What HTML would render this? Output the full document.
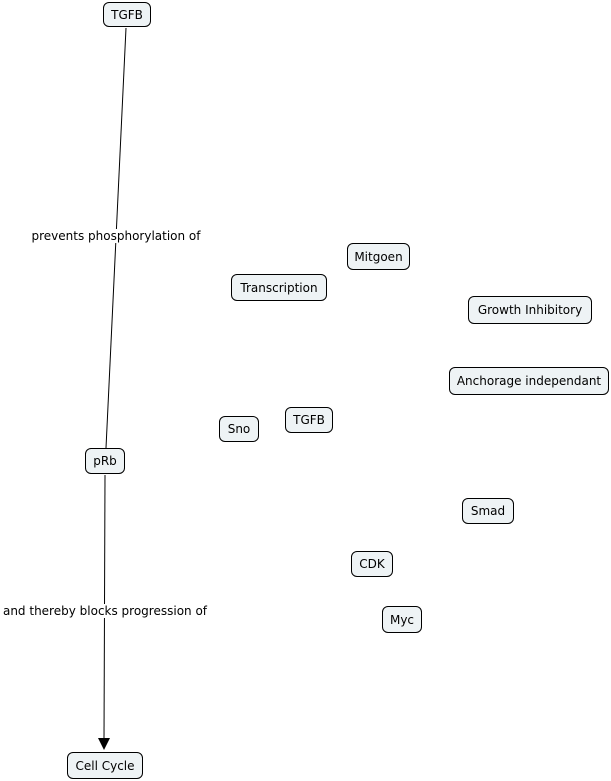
<!DOCTYPE html>
<html><head><style>
body{margin:0;width:611px;height:781px;background:#fff;position:relative;overflow:hidden;font-family:"DejaVu Sans","Liberation Sans",sans-serif;font-size:12px;color:#000}
.n{position:absolute;box-sizing:border-box;border:1px solid #000;border-radius:6px;background:#eef3f5;display:flex;align-items:center;justify-content:center;white-space:nowrap}
.l{position:absolute;background:#fff;white-space:nowrap;transform:translate(-50%,-50%)}
svg{position:absolute;left:0;top:0}
</style></head><body>
<svg width="611" height="781">
<line x1="126" y1="28" x2="106" y2="448" stroke="#000" stroke-width="1"/>
<line x1="105" y1="475" x2="104" y2="740" stroke="#000" stroke-width="1"/>
<polygon points="98,738 110,738 104,750" fill="#000"/>
</svg>
<div class="l" style="left:116px;top:236px">prevents phosphorylation of</div>
<div class="l" style="left:105px;top:611px">and thereby blocks progression of</div>
<div class="n" style="left:103px;top:2px;width:48px;height:25px">TGFB</div>
<div class="n" style="left:347px;top:243px;width:63px;height:27px">Mitgoen</div>
<div class="n" style="left:231px;top:274px;width:96px;height:27px">Transcription</div>
<div class="n" style="left:468px;top:296px;width:124px;height:28px">Growth Inhibitory</div>
<div class="n" style="left:449px;top:367px;width:160px;height:28px">Anchorage independant</div>
<div class="n" style="left:219px;top:416px;width:40px;height:26px">Sno</div>
<div class="n" style="left:285px;top:407px;width:48px;height:26px">TGFB</div>
<div class="n" style="left:85px;top:448px;width:40px;height:26px">pRb</div>
<div class="n" style="left:462px;top:498px;width:52px;height:26px">Smad</div>
<div class="n" style="left:351px;top:551px;width:42px;height:26px">CDK</div>
<div class="n" style="left:382px;top:606px;width:40px;height:27px">Myc</div>
<div class="n" style="left:67px;top:752px;width:76px;height:27px">Cell Cycle</div>
</body></html>
